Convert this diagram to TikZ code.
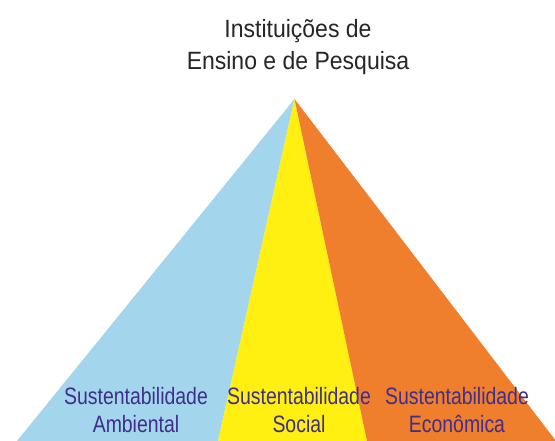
\documentclass[tikz,border=0pt]{standalone}
\usepackage{fontspec}
\setmainfont{Liberation Sans}[FakeStretch=0.82]
\newfontfamily\headfont{Liberation Sans}[FakeStretch=0.92]
\usetikzlibrary{positioning}
\definecolor{skyblue}{HTML}{A3D5EC}
\definecolor{sunyellow}{HTML}{FFF012}
\definecolor{deeporange}{HTML}{F07F2D}
\definecolor{labelpurple}{HTML}{3F2E8C}

\begin{document}
\begin{tikzpicture}[x=1pt, y=-1pt,
 title/.style = {align=center, inner sep=0pt, text=black!85,
                 font=\headfont\fontsize{25}{32}\selectfont},
pillar/.style = {align=center, inner sep=0pt, text=labelpurple,
                 font=\fontsize{23.7}{28}\selectfont}
                        ]
\useasboundingbox (0,0) rectangle (555,441);
\fill[white] (0,0) rectangle (555,441);
% faces of the pyramid
\coordinate (apex) at (294.5,99);
\coordinate (bl)   at (17,441);
\coordinate (b1)   at (218,441);
\coordinate (b2)   at (367,441);
\coordinate (br)   at (556,441);
\fill[skyblue]    (apex) -- (bl) -- (b1) -- cycle;
\fill[sunyellow]  (apex) -- (b1) -- (b2) -- cycle;
\fill[deeporange] (apex) -- (b2) -- (br) -- cycle;
% labels (anchor base = last line)
\node[title, anchor=base] (top) at (298,69.5) {Instituições de\\Ensino e de Pesquisa};
\node[pillar, anchor=base] (amb) at (136,432) {Sustentabilidade\\Ambiental};
\node[pillar, anchor=base] (soc) at (299,432) {Sustentabilidade\\Social};
\node[pillar, anchor=base] (eco) at (457,432) {Sustentabilidade\\Econômica};
\end{tikzpicture}
\end{document}
